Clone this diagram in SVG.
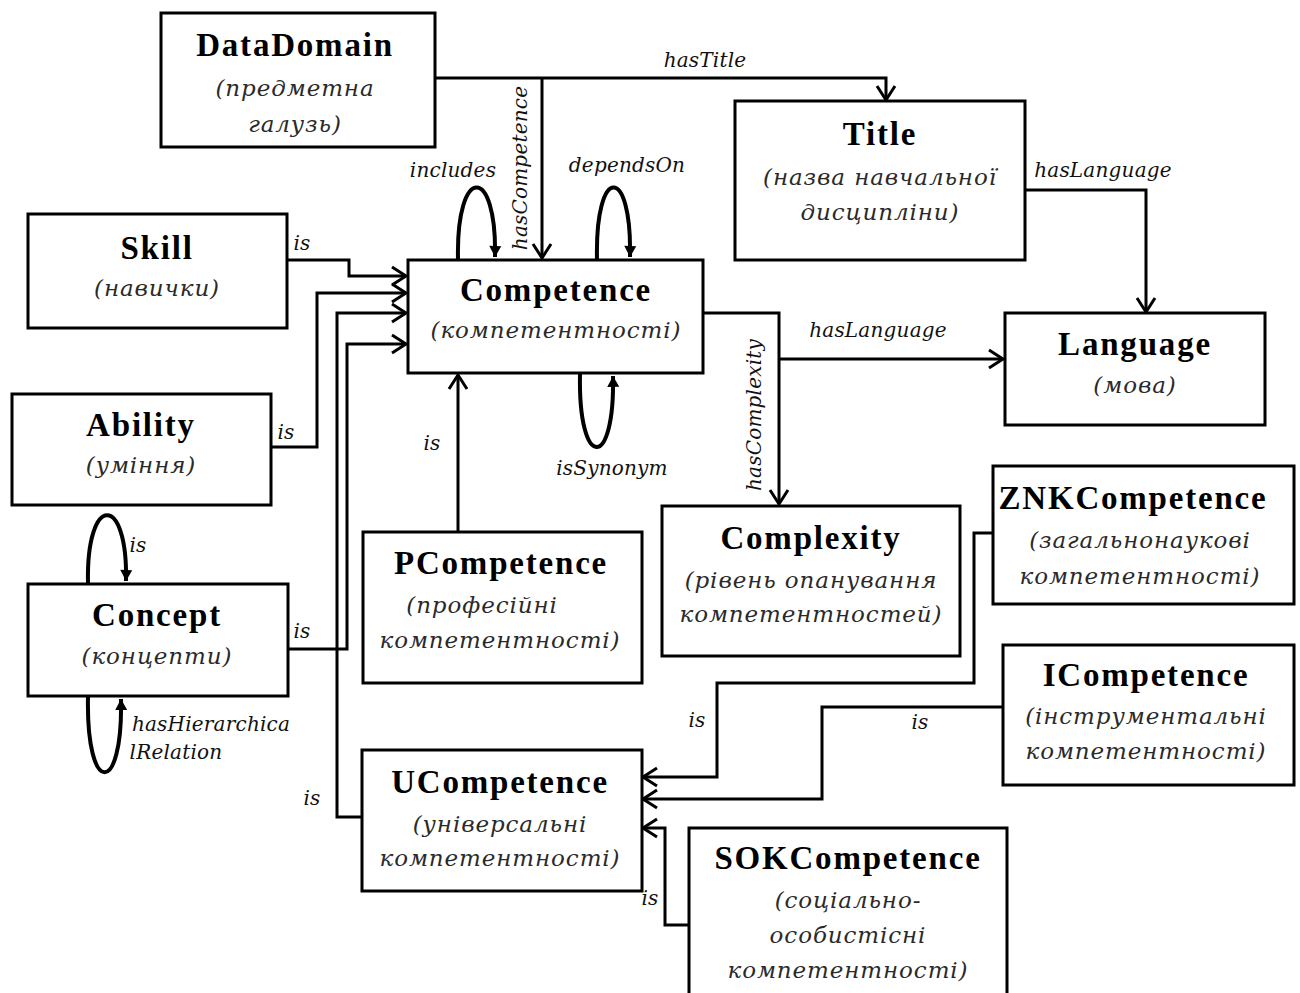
<svg xmlns="http://www.w3.org/2000/svg" width="1300" height="993" viewBox="0 0 1300 993">
  <style>
    .box { fill: #ffffff; stroke: #000000; stroke-width: 3; }
    .ttl { font-family: "Liberation Serif", "Times New Roman", serif; font-weight: bold; font-size: 33px; letter-spacing: 1.8px; text-anchor: middle; dominant-baseline: central; fill: #000; }
    .sub { font-family: "DejaVu Serif", "Liberation Serif", serif; font-style: italic; font-size: 23px; letter-spacing: 0.9px; text-anchor: middle; dominant-baseline: central; fill: #2a2a2a; }
    .lbl { font-family: "DejaVu Serif", "Liberation Serif", serif; font-style: italic; font-size: 20px; letter-spacing: 0.2px; text-anchor: middle; dominant-baseline: central; fill: #111; }
    .wire { fill: none; stroke: #000000; stroke-width: 3; }
    .loop { fill: none; stroke: #000000; stroke-width: 4; }
  </style>
  <defs>
    <marker id="open" markerUnits="userSpaceOnUse" viewBox="-18 -12 22 24" markerWidth="22" markerHeight="24" refX="0" refY="0" orient="auto">
      <path d="M-14,-9 L0,0 L-14,9" fill="none" stroke="#000" stroke-width="3"/>
    </marker>
    <marker id="solid" markerUnits="userSpaceOnUse" viewBox="-14 -8 16 16" markerWidth="16" markerHeight="16" refX="0" refY="0" orient="auto">
      <path d="M-11,-6 L0,0 L-11,6 Z" fill="#000"/>
    </marker>
  </defs>

  <g id="connectors">
    <!-- DataDomain -> Title / Competence -->
    <polyline class="wire" points="435,78 886,78 886,100" marker-end="url(#open)"/>
    <polyline class="wire" points="542,78 542,258" marker-end="url(#open)"/>
    <!-- subclasses entering Competence from the left -->
    <polyline class="wire" points="287,260 349,260 349,276 406,276" marker-end="url(#open)"/>
    <polyline class="wire" points="271,447 317,447 317,293 406,293" marker-end="url(#open)"/>
    <polyline class="wire" points="362,817 337,817 337,313 406,313" marker-end="url(#open)"/>
    <polyline class="wire" points="288,649 347,649 347,344 406,344" marker-end="url(#open)"/>
    <polyline class="wire" points="458,532 458,375" marker-end="url(#open)"/>
    <!-- Competence -> Complexity / Language -->
    <polyline class="wire" points="703,313 779,313 779,504" marker-end="url(#open)"/>
    <polyline class="wire" points="779,359 1003,359" marker-end="url(#open)"/>
    <!-- Title -> Language -->
    <polyline class="wire" points="1025,190 1146,190 1146,312" marker-end="url(#open)"/>
    <!-- subclasses entering UCompetence from the right -->
    <polyline class="wire" points="993,533 974,533 974,683 717,683 717,777 643,777" marker-end="url(#open)"/>
    <polyline class="wire" points="1003,707 822,707 822,799 643,799" marker-end="url(#open)"/>
    <polyline class="wire" points="689,925 665,925 665,828 643,828" marker-end="url(#open)"/>
    <!-- self loops -->
    <path class="loop" d="M458,259 C456,164 497,164 495,257" marker-end="url(#solid)"/>
    <path class="loop" d="M597,259 C595,164 632,164 630,257" marker-end="url(#solid)"/>
    <path class="loop" d="M580,374 C578,471 615,471 613,376" marker-end="url(#solid)"/>
    <path class="loop" d="M88,583 C86,493 128,493 126,581" marker-end="url(#solid)"/>
    <path class="loop" d="M88,697 C86,797 123,797 121,699" marker-end="url(#solid)"/>

    <!-- connector labels -->
    <text class="lbl" x="705" y="60">hasTitle</text>
    <text class="lbl" transform="translate(520,168) rotate(-90)">hasCompetence</text>
    <text class="lbl" x="453" y="170">includes</text>
    <text class="lbl" x="627" y="165">dependsOn</text>
    <text class="lbl" x="612" y="468">isSynonym</text>
    <text class="lbl" x="302" y="243">is</text>
    <text class="lbl" x="286" y="432">is</text>
    <text class="lbl" x="302" y="631">is</text>
    <text class="lbl" x="312" y="798">is</text>
    <text class="lbl" x="432" y="443">is</text>
    <text class="lbl" x="138" y="545">is</text>
    <text class="lbl" x="211" y="724">hasHierarchica</text>
    <text class="lbl" x="176" y="752">lRelation</text>
    <text class="lbl" x="878" y="330">hasLanguage</text>
    <text class="lbl" x="1103" y="170">hasLanguage</text>
    <text class="lbl" transform="translate(754,415) rotate(-90)">hasComplexity</text>
    <text class="lbl" x="697" y="720">is</text>
    <text class="lbl" x="920" y="722">is</text>
    <text class="lbl" x="650" y="898">is</text>
  </g>

  <g id="DataDomain">
    <rect class="box" x="161" y="13" width="274" height="134"/>
    <text class="ttl" x="295" y="45">DataDomain</text>
    <text class="sub" x="295" y="88">(предметна</text>
    <text class="sub" x="295" y="124">галузь)</text>
  </g>
  <g id="Title">
    <rect class="box" x="735" y="101" width="290" height="159"/>
    <text class="ttl" x="880" y="134">Title</text>
    <text class="sub" x="880" y="177">(назва навчальної</text>
    <text class="sub" x="880" y="212">дисципліни)</text>
  </g>
  <g id="Competence">
    <rect class="box" x="408" y="260" width="295" height="113"/>
    <text class="ttl" x="556" y="290">Competence</text>
    <text class="sub" x="556" y="330">(компетентності)</text>
  </g>
  <g id="Skill">
    <rect class="box" x="28" y="214" width="259" height="114"/>
    <text class="ttl" x="157" y="248">Skill</text>
    <text class="sub" x="157" y="288">(навички)</text>
  </g>
  <g id="Ability">
    <rect class="box" x="12" y="394" width="259" height="111"/>
    <text class="ttl" x="141" y="425">Ability</text>
    <text class="sub" x="141" y="465">(уміння)</text>
  </g>
  <g id="Concept">
    <rect class="box" x="28" y="584" width="260" height="112"/>
    <text class="ttl" x="157" y="615">Concept</text>
    <text class="sub" x="157" y="656">(концепти)</text>
  </g>
  <g id="PCompetence">
    <rect class="box" x="363" y="532" width="279" height="151"/>
    <text class="ttl" x="501" y="563">PCompetence</text>
    <text class="sub" x="482" y="605">(професійні</text>
    <text class="sub" x="500" y="640">компетентності)</text>
  </g>
  <g id="UCompetence">
    <rect class="box" x="362" y="750" width="280" height="141"/>
    <text class="ttl" x="500" y="782">UCompetence</text>
    <text class="sub" x="500" y="824">(універсальні</text>
    <text class="sub" x="500" y="858">компетентності)</text>
  </g>
  <g id="Complexity">
    <rect class="box" x="662" y="506" width="298" height="150"/>
    <text class="ttl" x="811" y="538">Complexity</text>
    <text class="sub" x="811" y="580">(рівень опанування</text>
    <text class="sub" x="811" y="614">компетентностей)</text>
  </g>
  <g id="Language">
    <rect class="box" x="1005" y="313" width="260" height="112"/>
    <text class="ttl" x="1135" y="344">Language</text>
    <text class="sub" x="1135" y="385">(мова)</text>
  </g>
  <g id="ZNKCompetence">
    <rect class="box" x="993" y="466" width="301" height="138"/>
    <text class="ttl" x="1133" y="498">ZNKCompetence</text>
    <text class="sub" x="1140" y="540">(загальнонаукові</text>
    <text class="sub" x="1140" y="576">компетентності)</text>
  </g>
  <g id="ICompetence">
    <rect class="box" x="1003" y="645" width="291" height="140"/>
    <text class="ttl" x="1146" y="675">ICompetence</text>
    <text class="sub" x="1146" y="716">(інструментальні</text>
    <text class="sub" x="1146" y="751">компетентності)</text>
  </g>
  <g id="SOKCompetence">
    <rect class="box" x="689" y="828" width="318" height="170"/>
    <text class="ttl" x="848" y="858">SOKCompetence</text>
    <text class="sub" x="848" y="900">(соціально-</text>
    <text class="sub" x="848" y="935">особистісні</text>
    <text class="sub" x="848" y="970">компетентності)</text>
  </g>
</svg>
